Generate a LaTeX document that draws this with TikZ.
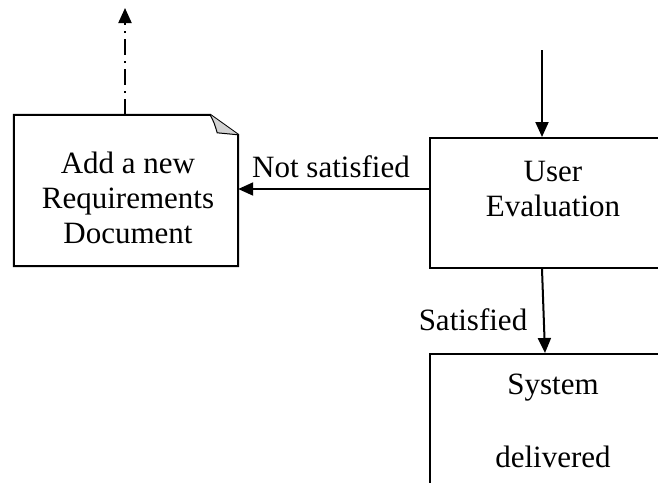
\documentclass[tikz,border=0pt]{standalone}
\usepackage{fontspec}
\setmainfont{Liberation Serif}
\usetikzlibrary{arrows.meta,calc}
\begin{document}
\begin{tikzpicture}[x=1pt,y=-1pt,
  lw/.style={line width=2pt},
  boxnode/.style={lw,draw,inner sep=0pt},
  txt/.style={font=\fontsize{31}{35}\selectfont,align=center,inner sep=0pt},
  arr/.style={lw,-{Triangle[length=15pt,width=13pt]}}]
\useasboundingbox (0,0) rectangle (658,482);
% document shape (folded corner)
\node[inner sep=0pt,minimum width=224pt,minimum height=151pt] (doc) at (126,190.5) {};
\draw[lw,line join=miter] (doc.north west) -- ($(doc.north east)+(-28,0)$) -- ($(doc.north east)+(0,20)$) -- (doc.south east) -- (doc.south west) -- cycle;
\fill[gray!35] ($(doc.north east)+(-28,0)$) .. controls ($(doc.north east)+(-24,8)$) .. ($(doc.north east)+(-21,18)$) -- ($(doc.north east)+(0,20)$) -- cycle;
\draw[line width=1pt] ($(doc.north east)+(-28,0)$) .. controls ($(doc.north east)+(-24,8)$) .. ($(doc.north east)+(-21,18)$) -- ($(doc.north east)+(0,20)$);
\node[txt] (doctext) at (128,198) {Add a new\\Requirements\\Document};
% user evaluation box
\node[boxnode,minimum width=246pt,minimum height=130pt] (ue) at (553,203) {};
\node[txt] (uetext) at (553,189) {User\\Evaluation};
% system delivered box
\node[boxnode,minimum width=246pt,minimum height=170pt] (sd) at (553,439) {};
\node[txt] (sdtext) at (553,421) {System\\[38pt]delivered};
% connectors
\coordinate (topin) at (542,50);
\coordinate (topout) at (125,8);
\coordinate (nsy) at (0,189);
\draw[arr] (topin) -- (topin |- ue.north);
\draw[arr] (ue.west |- nsy) -- (doc.east |- nsy);
\draw[arr] (ue.south -| topin) -- ($(sd.north -| topin)+(3,0)$);
\draw[arr,dash pattern=on 16pt off 6pt on 2pt off 6pt] (doc.north -| topout) -- (topout);
% labels
\node[txt] (nslabel) at (331,167) {Not satisfied};
\node[txt] (slabel) at (473,320) {Satisfied};
\end{tikzpicture}
\end{document}
